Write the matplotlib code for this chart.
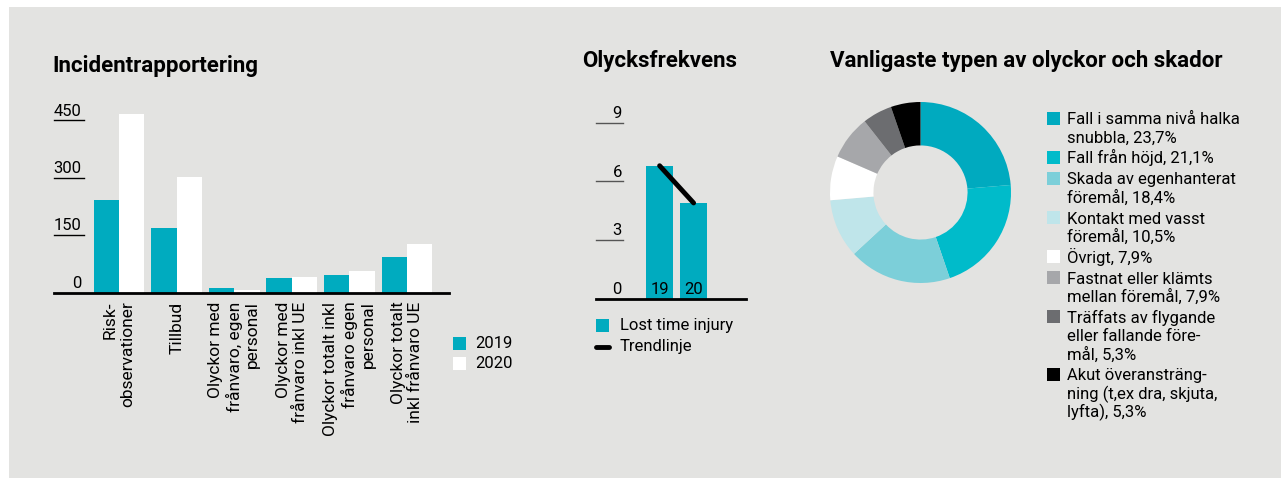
import numpy as np
import matplotlib
matplotlib.use('Agg')
import matplotlib.pyplot as plt
from matplotlib.patches import Rectangle
from matplotlib.lines import Line2D

plt.rcParams['font.family'] = ['Roboto', 'DejaVu Sans']

W, H = 1281, 478
BG = '#e3e3e1'
TEAL = '#00abbf'

# Incidentrapportering
categories = ['Risk-\nobservationer', 'Tillbud',
              'Olyckor med\nfrånvaro, egen\npersonal',
              'Olyckor med\nfrånvaro inkl UE',
              'Olyckor totalt inkl\nfrånvaro egen\npersonal',
              'Olyckor totalt\ninkl frånvaro UE']
incidents_2019 = [243, 169, 11, 38, 46, 93]
incidents_2020 = [467, 301, 6, 40, 56, 127]
incident_ticks = [0, 150, 300, 450]

# Olycksfrekvens
ltif_years = ['19', '20']
ltif_values = [6.8, 4.9]
ltif_ticks = [0, 3, 6, 9]

# Vanligaste typen av olyckor och skador
accident_types = ['Fall i samma nivå halka\nsnubbla',
                  'Fall från höjd',
                  'Skada av egenhanterat\nföremål',
                  'Kontakt med vasst\nföremål',
                  'Övrigt',
                  'Fastnat eller klämts\nmellan föremål',
                  'Träffats av flygande\neller fallande före-\nmål',
                  'Akut överansträng-\nning (t.ex dra, skjuta,\nlyfta)']
accident_shares = [23.7, 21.1, 18.4, 10.5, 7.9, 7.9, 5.3, 5.3]
accident_colors = ['#00aabf', '#00bbca', '#7ccfd9', '#bfe5ea',
                   '#ffffff', '#a6a7aa', '#6c6d70', '#000000']


def fx(px):
    return px / W


def fy(py):
    return 1 - py / H


def add_axes_px(left, top, right, bottom):
    return fig.add_axes([fx(left), fy(bottom), (right - left) / W, (bottom - top) / H])


fig = plt.figure(figsize=(W / 100, H / 100), dpi=100, facecolor='white')
fig.patches.append(Rectangle((fx(9), 0), 1 - fx(9), fy(7), transform=fig.transFigure,
                             facecolor=BG, edgecolor='none', zorder=-10))

# --- bar chart ---
ax1 = add_axes_px(54, 109, 449, 292.5)
ax1.set_facecolor('none')
x = np.arange(len(categories))
ax1.bar(x - 0.22, incidents_2019, 0.44, color=TEAL)
ax1.bar(x + 0.22, incidents_2020, 0.44, color='white')
ax1.set_xlim(-1.13, 5.73)
ax1.set_ylim(0, 480)
ax1.axhline(0, color='black', lw=2, clip_on=False, zorder=3)
for t in incident_ticks:
    if t:
        ax1.plot([-1.13, -0.61], [t, t], color='black', lw=1, clip_on=False)
    ax1.annotate(str(t), (-0.66, t), xytext=(0, 3.5), textcoords='offset points',
                 ha='right', va='baseline', fontsize=12)
ax1.set_xticks(x, categories, rotation=90, fontsize=12.5, ha='center', va='top',
               multialignment='right', linespacing=1.2)
ax1.tick_params(axis='x', length=0, pad=6.5)
ax1.set_yticks([])
for s in ax1.spines.values():
    s.set_visible(False)

for yc, color, label in [(343, TEAL, '2019'), (363, 'white', '2020')]:
    fig.patches.append(Rectangle((fx(453), fy(yc + 6.5)), 13 / W, 13 / H,
                                 transform=fig.transFigure, facecolor=color, edgecolor='none'))
    fig.text(fx(475), fy(yc), label, fontsize=12, va='center', ha='left')

# --- Olycksfrekvens ---
ax2 = add_axes_px(596, 103, 746, 299)
ax2.set_facecolor('none')
xs = np.arange(len(ltif_years))
ax2.bar(xs, ltif_values, 0.79, color=TEAL)
ax2.plot(xs, ltif_values, color='black', lw=3.5, solid_capstyle='round')
ax2.set_xlim(-1.87, 2.54)
ax2.set_ylim(0, 10)
ax2.axhline(0, color='black', lw=2, clip_on=False, zorder=3)
for t in ltif_ticks:
    if t:
        ax2.plot([-1.87, -1.07], [t, t], color='#555555', lw=1, clip_on=False)
    ax2.annotate(str(t), (-1.11, t), xytext=(0, 3.5), textcoords='offset points',
                 ha='right', va='baseline', fontsize=12)
for xi, yr in zip(xs, ltif_years):
    ax2.annotate(yr, (xi, 0), xytext=(0, 3.5), textcoords='offset points',
                 ha='center', va='baseline', fontsize=12)
ax2.axis('off')

fig.patches.append(Rectangle((fx(596), fy(332)), 13 / W, 13 / H,
                             transform=fig.transFigure, facecolor=TEAL, edgecolor='none'))
fig.text(fx(620), fy(325.5), 'Lost time injury', fontsize=12, va='center')
fig.lines.append(Line2D([fx(596), fx(609)], [fy(347), fy(347)], transform=fig.transFigure,
                        color='black', lw=3.5, solid_capstyle='round'))
fig.text(fx(620), fy(347), 'Trendlinje', fontsize=12, va='center')

# --- donut ---
ax3 = add_axes_px(830, 102, 1011, 283)
ax3.pie(accident_shares, colors=accident_colors, startangle=90, counterclock=False,
        radius=1, wedgeprops=dict(width=0.48, linewidth=0))
ax3.set_xlim(-1, 1)
ax3.set_ylim(-1, 1)

yc = 118.3
line_h = 18.3
for name, share, color in zip(accident_types, accident_shares, accident_colors):
    label = f"{name}, {share:.1f}%".replace('.', ',')
    fig.patches.append(Rectangle((fx(1047), fy(yc + 6.5)), 13 / W, 13 / H,
                                 transform=fig.transFigure, facecolor=color, edgecolor='none'))
    lines = label.split('\n')
    for k, ln in enumerate(lines):
        fig.text(fx(1067), fy(yc + 6 + k * line_h), ln, fontsize=12, va='baseline')
    yc += len(lines) * line_h + 2.6

# --- titles ---
fig.text(fx(52), fy(72), 'Incidentrapportering', fontsize=16, weight='bold', va='baseline')
fig.text(fx(582), fy(67), 'Olycksfrekvens', fontsize=16, weight='bold', va='baseline')
fig.text(fx(830), fy(67), 'Vanligaste typen av olyckor och skador', fontsize=16,
         weight='bold', va='baseline')

fig.savefig('out.png', dpi=100, facecolor='white')
